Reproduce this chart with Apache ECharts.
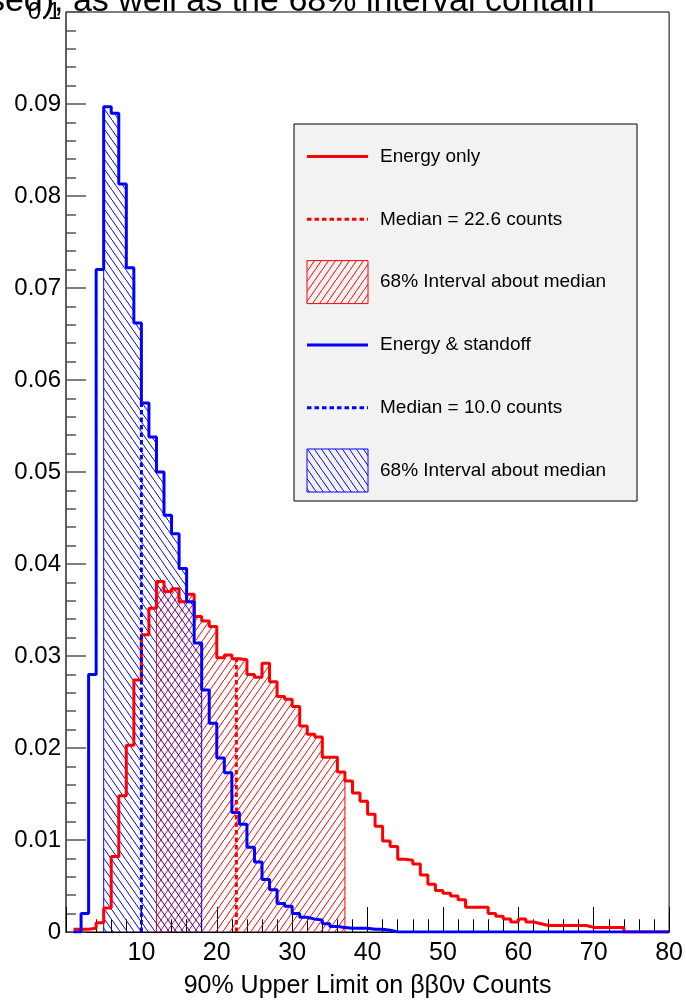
<!DOCTYPE html>
<html><head><meta charset="utf-8">
<script src="https://cdn.jsdelivr.net/npm/echarts@6/dist/echarts.min.js"></script>
<style>html,body{margin:0;padding:0;background:#fff}#c{width:686px;height:1006px}</style>
</head><body><div id="c"></div>
<script>
// ---- data ----
const binLow = 1;      // lower edge of first bin
const binWidth = 1;
// "Energy only" histogram, bins [1,2] ... [79,80]
const redVals = [
  0.0003, 0.0003, 0.0004, 0.0010, 0.0026, 0.0082, 0.0148, 0.0203, 0.0274, 0.0323,
  0.0352, 0.0381, 0.0370, 0.0373, 0.0359, 0.0367, 0.0343, 0.0338, 0.0332, 0.0298,
  0.0301, 0.0297, 0.0296, 0.0280, 0.0277, 0.0292, 0.0272, 0.0256, 0.0253, 0.0245,
  0.0224, 0.0215, 0.0212, 0.0190, 0.0190, 0.0174, 0.0164, 0.0151, 0.0142, 0.0128,
  0.0115, 0.0099, 0.0093, 0.0079, 0.0078, 0.0074, 0.0062, 0.0052, 0.0045, 0.0042,
  0.0039, 0.0035, 0.0027, 0.0027, 0.0027, 0.0020, 0.0017, 0.0014, 0.0011, 0.0014,
  0.0011, 0.0009, 0.0007, 0.0007, 0.0007, 0.0007, 0.0007, 0.0007, 0.0005, 0.0005,
  0.0005, 0.0005, 0.0005, 0, 0, 0, 0, 0, 0
];
// "Energy & standoff" histogram, bins [1,2] ... [79,80]
const blueVals = [
  0, 0.0020, 0.0280, 0.0720, 0.0897, 0.0890, 0.0813, 0.0722, 0.0662, 0.0575,
  0.0538, 0.0500, 0.0453, 0.0433, 0.0395, 0.0359, 0.0314, 0.0263, 0.0227, 0.0189,
  0.0173, 0.0130, 0.0117, 0.0092, 0.0076, 0.0057, 0.0046, 0.0031, 0.0028, 0.0020,
  0.0016, 0.0014, 0.0013, 0.0009, 0.0006, 0.0005, 0.0004, 0.0004, 0.0004, 0.0003,
  0.0003, 0.0002, 0, 0, 0, 0, 0, 0, 0, 0,
  0, 0, 0, 0, 0, 0, 0, 0, 0, 0,
  0, 0, 0, 0, 0, 0, 0, 0, 0, 0,
  0, 0, 0, 0, 0, 0, 0, 0, 0
];
const redInterval = [12, 37];
const blueInterval = [5, 18];
const medianRed = 22.6;
const medianBlue = 10.0;
const xMin = 0, xMax = 80, xStep = 10;
const yMin = 0, yMax = 0.1, yStep = 0.01;
const xTitle = '90% Upper Limit on \u03b2\u03b20\u03bd Counts';
const caption = 'used), as well as the 68% interval contain';
const legendLabels = ['Energy only', 'Median = ' + medianRed.toFixed(1) + ' counts', '68% Interval about median',
                      'Energy & standoff', 'Median = ' + medianBlue.toFixed(1) + ' counts', '68% Interval about median'];

// ---- helpers ----
const RED = '#ff0000', BLUE = '#0000ff';
const FONT = '"Liberation Sans", Arial, Helvetica, sans-serif';
function hatch(color, dir) {
  const w = 7, h = 10;
  const c = document.createElement('canvas');
  c.width = w; c.height = h;
  const ctx = c.getContext('2d');
  ctx.strokeStyle = color; ctx.lineWidth = 1;
  ctx.beginPath();
  if (dir > 0) { ctx.moveTo(-w, 2 * h); ctx.lineTo(2 * w, -h); }
  else { ctx.moveTo(-w, -h); ctx.lineTo(2 * w, 2 * h); }
  ctx.stroke();
  return { image: c, repeat: 'repeat' };
}
const redHatch = hatch(RED, 1), blueHatch = hatch(BLUE, -1);
function idx(x) { return Math.floor((x - binLow) / binWidth + 1e-9); }
function stepData(vals) {
  const d = [];
  for (let i = 0; i < vals.length; i++) d.push([binLow + i * binWidth, vals[i]]);
  d.push([binLow + vals.length * binWidth, 0]);
  return d;
}
function intervalData(vals, lo, hi) {
  const d = [[lo, 0]];
  for (let x = lo; x < hi; x += binWidth) d.push([x, vals[idx(x)]]);
  d.push([hi, 0]);
  return d;
}
function medianData(vals, m) { return [[m, 0], [m, vals[idx(m)]]]; }

// ---- legend (graphic) ----
const L = { x: 294, y: 124, w: 343, h: 377, sx: 307, sw: 61, tx: 380, y0: 156.5, dy: 62.8, bh: 43 };
const legendEls = [{ type: 'rect', shape: { x: L.x, y: L.y, width: L.w, height: L.h },
  style: { fill: '#f2f2f2', stroke: '#000', lineWidth: 1 }, z: 100 }];
const kinds = [['line', RED], ['dot', RED], ['box', RED], ['line', BLUE], ['dot', BLUE], ['box', BLUE]];
kinds.forEach((k, i) => {
  const cy = L.y0 + i * L.dy;
  if (k[0] === 'box') {
    legendEls.push({ type: 'rect', shape: { x: L.sx, y: cy - L.bh / 2, width: L.sw, height: L.bh },
      style: { fill: k[1] === RED ? redHatch : blueHatch, stroke: k[1], lineWidth: 1 }, z: 101 });
  } else {
    legendEls.push({ type: 'line', shape: { x1: L.sx, y1: cy, x2: L.sx + L.sw, y2: cy },
      style: { stroke: k[1], lineWidth: 3, lineDash: k[0] === 'dot' ? [4.5, 3] : null }, z: 101 });
  }
  legendEls.push({ type: 'text', x: L.tx, y: cy, z: 101,
    style: { text: legendLabels[i], fill: '#000', font: '19px ' + FONT, verticalAlign: 'middle' } });
});
legendEls.push({ type: 'text', x: -31, y: 19, z: 1,
  style: { text: caption, fill: '#000', font: '34px ' + FONT, verticalAlign: 'bottom' } });

const chart = echarts.init(document.getElementById('c'), null, { renderer: 'canvas' });
chart.setOption({
  animation: false,
  backgroundColor: '#fff',
  grid: { left: 66, right: 13, top: 12, bottom: 74, show: true, borderColor: '#000', borderWidth: 1, backgroundColor: 'transparent' },
  xAxis: {
    type: 'value', min: xMin, max: xMax, interval: xStep,
    name: xTitle, nameLocation: 'middle', nameGap: 42,
    nameTextStyle: { fontFamily: FONT, fontSize: 25, color: '#000' },
    axisLine: { lineStyle: { color: '#000', width: 1 } },
    axisTick: { inside: true, length: 25, lineStyle: { color: '#000', width: 1 } },
    minorTick: { show: true, splitNumber: 5, length: 12.7, lineStyle: { color: '#000', width: 1 } },
    axisLabel: { showMinLabel: false, fontFamily: FONT, fontSize: 25, color: '#000', margin: 9 },
    splitLine: { show: false }
  },
  yAxis: {
    type: 'value', min: yMin, max: yMax, interval: yStep,
    axisLine: { lineStyle: { color: '#555', width: 1.5 } },
    axisTick: { inside: true, length: 20, lineStyle: { color: '#555', width: 1.5 } },
    minorTick: { show: true, splitNumber: 5, length: 10, lineStyle: { color: '#555', width: 1.5 } },
    axisLabel: { fontFamily: FONT, fontSize: 24, color: '#000', margin: 5 },
    splitLine: { show: false }
  },
  graphic: legendEls,
  series: [
    { name: '68% Interval about median (energy only)', type: 'line', step: 'end', symbol: 'none',
      data: intervalData(redVals, redInterval[0], redInterval[1]),
      lineStyle: { color: RED, width: 1 }, areaStyle: { color: redHatch, opacity: 1 } },
    { name: '68% Interval about median (energy & standoff)', type: 'line', step: 'end', symbol: 'none',
      data: intervalData(blueVals, blueInterval[0], blueInterval[1]),
      lineStyle: { color: BLUE, width: 1 }, areaStyle: { color: blueHatch, opacity: 1 } },
    { name: 'Energy only', type: 'line', step: 'end', symbol: 'none', data: stepData(redVals),
      lineStyle: { color: RED, width: 3 } },
    { name: 'Energy & standoff', type: 'line', step: 'end', symbol: 'none', data: stepData(blueVals),
      lineStyle: { color: BLUE, width: 3 } },
    { name: 'Median energy only', type: 'line', symbol: 'none', data: medianData(redVals, medianRed),
      lineStyle: { color: RED, width: 3, type: [4.5, 3] } },
    { name: 'Median energy & standoff', type: 'line', symbol: 'none', data: medianData(blueVals, medianBlue),
      lineStyle: { color: BLUE, width: 3, type: [4.5, 3] } }
  ]
});
</script></body></html>
